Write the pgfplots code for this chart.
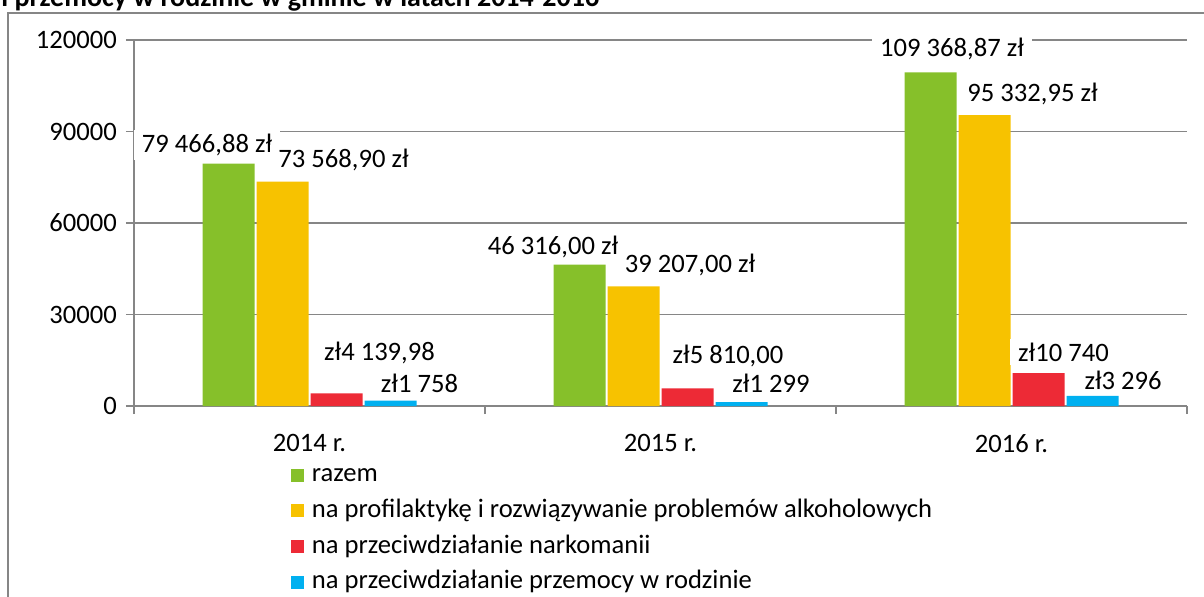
\documentclass[border=0pt]{standalone}
\usepackage{fontspec}
\setmainfont{Carlito}
\usepackage{pgfplots}
\pgfplotsset{compat=1.18}
\definecolor{cgreen}{RGB}{134,192,42}
\definecolor{cyellow}{RGB}{247,194,0}
\definecolor{cred}{RGB}{237,42,54}
\definecolor{cblue}{RGB}{0,176,240}
\definecolor{cgrid}{RGB}{134,134,134}
\pgfplotsset{/pgfplots/ybar legend/.style={/pgfplots/legend image code/.code={\fill[##1] (0pt,-3.25pt) rectangle (6.5pt,3.25pt);}}}
\begin{document}
\fontsize{13.3pt}{16pt}\selectfont
\begin{tikzpicture}
\useasboundingbox (0pt,0pt) rectangle (602pt,298pt);
\clip (0pt,0pt) rectangle (602pt,298pt);
\node[anchor=base west, inner sep=0pt, font=\fontsize{14pt}{16pt}\selectfont\bfseries] at (0.5pt,294.75pt) {i przemocy w rodzinie w gminie w latach 2014-2016};
\draw[cgrid, line width=1pt] (4pt,-2pt) -- (4pt,291.5pt) -- (605pt,291.5pt);
\begin{axis}[
  at={(67pt,95pt)}, anchor=south west, scale only axis,
  width=526.5pt, height=183pt,
  clip=false,
  ybar=1pt, bar width=26pt,
  xmin=-0.5, xmax=2.5, ymin=0, ymax=120000,
  xtick={0,1,2}, xticklabels={2014 r.,2015 r.,2016 r.},
  xticklabel style={yshift=-5.5pt},
  minor xtick={-0.5,0.5,1.5,2.5},
  ytick={0,30000,60000,90000,120000},
  scaled y ticks=false,
  /pgf/number format/fixed,
  /pgf/number format/1000 sep={},
  /pgf/number format/assume math mode=true,
  axis x line*=bottom, axis y line*=left,
  axis line style={-, cgrid, line width=0.8pt},
  ymajorgrids, grid style={cgrid, line width=0.8pt},
  tick align=outside, major tick length=4pt, minor tick length=4pt,
  tick style={cgrid, line width=0.8pt},
  major x tick style={draw=none},
  legend style={draw=none, fill=none, inner sep=0pt, outer sep=0pt,
    at={(axis description cs:0.149,-0.158)}, anchor=north west,
    row sep=6.3pt, column sep=4pt,
    nodes={inner sep=0pt, text height=9pt, text depth=2.5pt}},
  legend cell align=left,
]
\addplot[fill=cgreen, draw=none] coordinates {(0,79466.88) (1,46316) (2,109368.87)};
\addplot[fill=cyellow, draw=none] coordinates {(0,73568.90) (1,39207) (2,95332.95)};
\addplot[fill=cred, draw=none] coordinates {(0,4139.98) (1,5810) (2,10740)};
\addplot[fill=cblue, draw=none] coordinates {(0,1758) (1,1299) (2,3296)};
\legend{razem, na profilaktykę i rozwiązywanie problemów alkoholowych, na przeciwdziałanie narkomanii, na przeciwdziałanie przemocy w rodzinie}
\tikzset{lbl/.style={fill=white, inner xsep=4pt, inner ysep=2pt}}
\node[lbl] at (axis cs:-0.2920,85574) {79 466,88 zł};
\node[lbl] at (axis cs:0.0969,80656) {73 568,90 zł};
\node[lbl] at (axis cs:0.1994,17377) {zł4 139,98};
\node[lbl] at (axis cs:0.3134,7541) {zł1 758};
\node[lbl] at (axis cs:0.6937,52131) {46 316,00 zł};
\node[lbl] at (axis cs:1.0840,46230) {39 207,00 zł};
\node[lbl] at (axis cs:1.1923,16393) {zł5 810,00};
\node[lbl] at (axis cs:1.3148,7541) {zł1 299};
\node[lbl] at (axis cs:1.8305,117049) {109 368,87 zł};
\node[lbl] at (axis cs:2.0598,102295) {95 332,95 zł};
\node[lbl] at (axis cs:2.1481,17705) {zł10 740};
\node[lbl] at (axis cs:2.3177,8525) {zł3 296};
\end{axis}
\end{tikzpicture}
\end{document}
